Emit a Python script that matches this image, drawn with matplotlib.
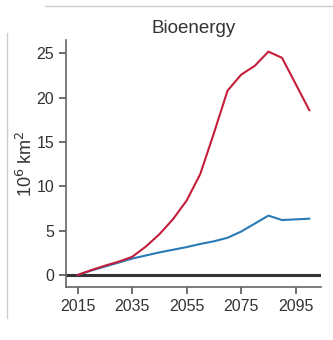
import numpy as np
import matplotlib
matplotlib.use("Agg")
import matplotlib.pyplot as plt
from matplotlib.lines import Line2D

plt.rcParams['font.family'] = ['Liberation Sans', 'DejaVu Sans']

years = [2015, 2020, 2025, 2030, 2035, 2040, 2045, 2050, 2055, 2060,
         2065, 2070, 2075, 2080, 2085, 2090, 2100]
red_vals = [0, 0.55, 1.05, 1.5, 2.05, 3.2, 4.6, 6.3, 8.4, 11.4,
            16.0, 20.8, 22.6, 23.6, 25.2, 24.5, 18.6]
blue_vals = [0, 0.5, 0.95, 1.4, 1.85, 2.2, 2.55, 2.85, 3.15, 3.5,
             3.8, 4.2, 4.9, 5.8, 6.7, 6.2, 6.35]
xticks = [2015, 2035, 2055, 2075, 2095]
yticks = [0, 5, 10, 15, 20, 25]

fig = plt.figure(figsize=(3.33, 3.40), dpi=100)
ax = fig.add_axes([0.198, 0.156, 0.766, 0.726])

ax.axhline(0, color='#333333', lw=2.2, zorder=1)
ax.plot(years, red_vals, color='#c41e3a', lw=1.5, zorder=3)
ax.plot(years, blue_vals, color='#2a7ab5', lw=1.5, zorder=2)

ax.set_xlim(2010.7, 2104.3)
ax.set_ylim(-1.35, 26.5)
ax.set_xticks(xticks)
ax.set_yticks(yticks)
ax.tick_params(colors='#555555', labelcolor='#333333', labelsize=11.5,
               length=5, width=1.2)
for s in ['top', 'right']:
    ax.spines[s].set_visible(False)
for s in ['left', 'bottom']:
    ax.spines[s].set_color('#666666')
    ax.spines[s].set_linewidth(1.2)

ax.set_title('Bioenergy', fontsize=13.5, color='#333333', pad=5)
ax.set_ylabel('10$^6$ km$^2$', fontsize=13, color='#333333', labelpad=0)

# panel separators from the source figure
fig.add_artist(Line2D([45/333, 1], [1 - 6/340, 1 - 6/340],
                      transform=fig.transFigure, color='#cccccc', lw=1))
fig.add_artist(Line2D([7/333, 7/333], [1 - 33/340, 1 - 318/340],
                      transform=fig.transFigure, color='#cccccc', lw=1))

fig.savefig('out.png', dpi=100)
